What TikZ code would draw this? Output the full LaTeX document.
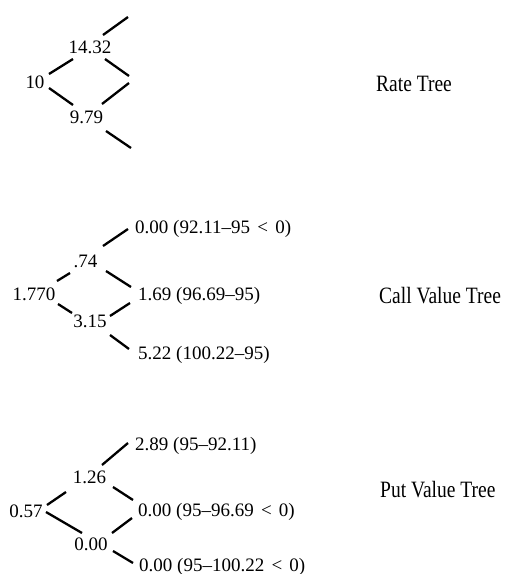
\documentclass[tikz,border=0pt]{standalone}
\usepackage{fontspec}
\usepackage{graphicx}
\setmainfont{Liberation Serif}
\newcommand{\lessthan}{\kern2.5pt<\kern2.5pt}
\begin{document}
\begin{tikzpicture}[x=1pt,y=-1pt,
  val/.style={inner sep=0pt, anchor=base, font=\fontsize{19}{22}\selectfont},
  leaf/.style={val, anchor=base west},
  branch/.style={line width=2.3pt},
  caption/.style={inner sep=0pt, anchor=base west, font=\fontsize{19.5}{23}\selectfont}]
\useasboundingbox (0,0) rectangle (505,574);

% ---------------- Rate tree ----------------
\node[val] (r0) at (35,88)  {10};
\node[val] (r1) at (90,53)  {14.32};
\node[val] (r2) at (86.5,123) {9.79};
\coordinate (rt)  at (128,17);
\coordinate (rmu) at (129,76);
\coordinate (rmd) at (129,83);
\coordinate (rb)  at (131,148);

\draw[branch] ([shift={(14,-14)}]r0.base) -- ([shift={(-17,6)}]r1.base);
\draw[branch] ([shift={(14,0)}]r0.base)   -- ([shift={(-13.5,-18)}]r2.base);
\draw[branch] ([shift={(13,-18)}]r1.base) -- (rt);
\draw[branch] ([shift={(15,6)}]r1.base)   -- (rmu);
\draw[branch] ([shift={(15.5,-19)}]r2.base) -- (rmd);
\draw[branch] ([shift={(19.5,8)}]r2.base) -- (rb);

\node[caption] (lr) at (376,91) {\scalebox{1}[1.2]{Rate Tree}};

% ---------------- Call value tree ----------------
\node[val] (c0) at (34,300)   {1.770};
\node[val] (c1) at (85.5,267) {.74};
\node[val] (c2) at (90,327)   {3.15};
\node[leaf] (cu) at (135,233) {0.00 (92.11–95 \lessthan{} 0)};
\node[leaf] (cm) at (138,300) {1.69 (96.69–95)};
\node[leaf] (cd) at (138,359) {5.22 (100.22–95)};

\draw[branch] ([shift={(23,-19)}]c0.base)   -- ([shift={(-15.5,6)}]c1.base);
\draw[branch] ([shift={(24,4)}]c0.base)     -- ([shift={(-18,-14)}]c2.base);
\draw[branch] ([shift={(17.5,-21)}]c1.base) -- ([shift={(-7,-4)}]cu.base west);
\draw[branch] ([shift={(20.5,4)}]c1.base)   -- ([shift={(-7,-13)}]cm.base west);
\draw[branch] ([shift={(20,-11)}]c2.base)   -- ([shift={(-8,3)}]cm.base west);
\draw[branch] ([shift={(20,8)}]c2.base)     -- ([shift={(-9,-10)}]cd.base west);

\node[caption] (lc) at (379,303) {\scalebox{1}[1.2]{Call Value Tree}};

% ---------------- Put value tree ----------------
\node[val] (p0) at (26,517)   {0.57};
\node[val] (p1) at (89.5,483) {1.26};
\node[val] (p2) at (91,550)   {0.00};
\node[leaf] (pu) at (135,450) {2.89 (95–92.11)};
\node[leaf] (pm) at (138,516) {0.00 (95–96.69 \lessthan{} 0)};
\node[leaf] (pd) at (139,571) {0.00 (95–100.22 \lessthan{} 0)};

\draw[branch] ([shift={(21,-12)}]p0.base)   -- ([shift={(-23.5,9)}]p1.base);
\draw[branch] ([shift={(20,-5)}]p0.base)    -- ([shift={(-9,-17)}]p2.base);
\draw[branch] ([shift={(12.5,-18)}]p1.base) -- ([shift={(-7,-7)}]pu.base west);
\draw[branch] ([shift={(23.5,4)}]p1.base)   -- ([shift={(-5,-16)}]pm.base west);
\draw[branch] ([shift={(21,-17)}]p2.base)   -- ([shift={(-6,2)}]pm.base west);
\draw[branch] ([shift={(22,1)}]p2.base)     -- ([shift={(-6,-8)}]pd.base west);

\node[caption] (lp) at (380,497) {\scalebox{1}[1.2]{Put Value Tree}};
\end{tikzpicture}
\end{document}
